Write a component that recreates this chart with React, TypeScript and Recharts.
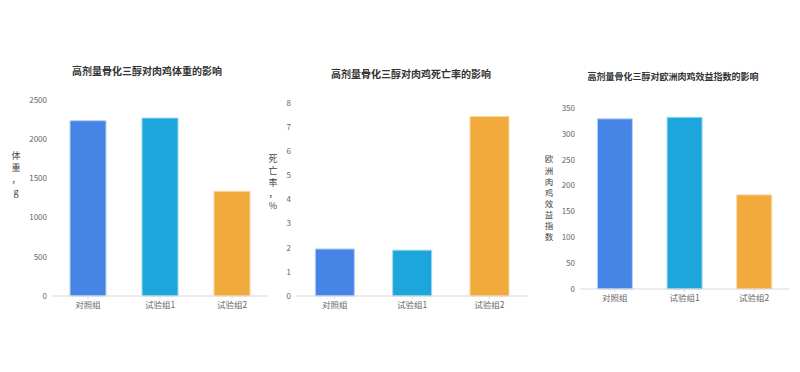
import React from "react";
import { BarChart, Bar, XAxis, YAxis, Cell } from "recharts";

const categories = ["对照组", "试验组1", "试验组2"];
const weightValues = [2236, 2270, 1335];
const mortalityValues = [1.95, 1.9, 7.44];
const efficiencyValues = [329, 332, 182];

const weightTicks = [0, 500, 1000, 1500, 2000, 2500];
const mortalityTicks = [0, 1, 2, 3, 4, 5, 6, 7, 8];
const efficiencyTicks = [0, 50, 100, 150, 200, 250, 300, 350];

const titles = [
  "高剂量骨化三醇对肉鸡体重的影响",
  "高剂量骨化三醇对肉鸡死亡率的影响",
  "高剂量骨化三醇对欧洲肉鸡效益指数的影响",
];
const yLabels = [
  ["体", "重", "，", "g"],
  ["死", "亡", "率", "，", "%"],
  ["欧", "洲", "肉", "鸡", "效", "益", "指", "数"],
];

const colors = ["#4684e6", "#1ca6db", "#f2aa3d"];
const strokes = ["#b7cff5", "#9ed8ef", "#f8d7a3"];

const FONT = "'Noto Sans CJK SC', 'Noto Sans', sans-serif";

type PanelProps = {
  values: number[];
  ticks: number[];
  left: number;
  width: number;
  height: number;
  marginTop: number;
  marginRight: number;
  yAxisWidth: number;
};

function Panel({ values, ticks, left, width, height, marginTop, marginRight, yAxisWidth }: PanelProps) {
  const data = categories.map((c, i) => ({ name: c, value: values[i] }));
  return (
    <div style={{ position: "absolute", left, top: 0 }}>
      <BarChart
        width={width}
        height={height}
        data={data}
        margin={{ top: marginTop, right: marginRight, left: 0, bottom: 0 }}
        barCategoryGap="25%"
      >
        <XAxis
          dataKey="name"
          height={34}
          axisLine={{ stroke: "#d9d9d9" }}
          tickLine={{ stroke: "#d9d9d9" }}
          tickSize={3}
          tickMargin={3}
          tick={{ fill: "#666", fontSize: 8.5, fontFamily: FONT }}
          interval={0}
        />
        <YAxis
          width={yAxisWidth}
          domain={[ticks[0], ticks[ticks.length - 1]]}
          ticks={ticks}
          axisLine={false}
          tickLine={false}
          tickSize={0}
          tickMargin={5}
          interval={0}
          tick={{ fill: "#666", fontSize: 8, fontFamily: FONT }}
        />
        <Bar dataKey="value" isAnimationActive={false} strokeWidth={1}>
          {data.map((d, i) => (
            <Cell key={d.name} fill={colors[i]} stroke={strokes[i]} />
          ))}
        </Bar>
      </BarChart>
    </div>
  );
}

function Title({ text, cx, cy, size }: { text: string; cx: number; cy: number; size: number }) {
  return (
    <div
      style={{
        position: "absolute",
        left: cx - 150,
        width: 300,
        top: cy - size * 0.75,
        textAlign: "center",
        fontFamily: FONT,
        fontWeight: "bold",
        fontSize: size,
        color: "#333",
        lineHeight: `${size * 1.5}px`,
        whiteSpace: "nowrap",
      }}
    >
      {text}
    </div>
  );
}

function YLabel({ chars, cx, top, step, size }: { chars: string[]; cx: number; top: number; step: number; size: number }) {
  return (
    <div
      style={{
        position: "absolute",
        left: cx - 10,
        width: 20,
        top: top - step / 2,
        fontFamily: FONT,
        fontSize: size,
        color: "#444",
        textAlign: "center",
      }}
    >
      {chars.map((c, i) => (
        <div key={i} style={{ height: step, lineHeight: `${step}px` }}>
          {c}
        </div>
      ))}
    </div>
  );
}

export default function App() {
  return (
    <div
      style={{
        position: "absolute",
        left: 0,
        top: 0,
        width: 800,
        height: 372,
        background: "#fff",
        overflow: "hidden",
      }}
    >
      <Panel values={weightValues} ticks={weightTicks} left={0} width={280} height={330} marginTop={100} marginRight={12} yAxisWidth={52} />
      <Panel values={mortalityValues} ticks={mortalityTicks} left={260} width={280} height={330} marginTop={103} marginRight={12} yAxisWidth={36} />
      <Panel values={efficiencyValues} ticks={efficiencyTicks} left={530} width={270} height={323} marginTop={108} marginRight={11} yAxisWidth={50} />
      <Title text={titles[0]} cx={147} cy={70} size={10} />
      <Title text={titles[1]} cx={411} cy={73} size={10} />
      <Title text={titles[2]} cx={673} cy={77} size={9} />
      <YLabel chars={yLabels[0]} cx={16} top={156} step={12} size={9} />
      <YLabel chars={yLabels[1]} cx={273} top={159} step={11.7} size={9} />
      <YLabel chars={yLabels[2]} cx={549} top={159} step={11.06} size={8.5} />
    </div>
  );
}
